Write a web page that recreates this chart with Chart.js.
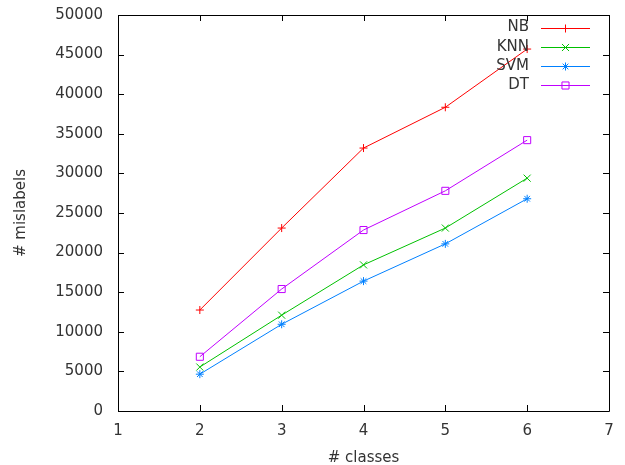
<!DOCTYPE html>
<html>
<head>
<meta charset="utf-8">
<script src="https://cdn.jsdelivr.net/npm/chart.js@4"></script>
<style>
  html, body { margin: 0; padding: 0; background: #fff; }
  #wrap { width: 625px; height: 465px; }
</style>
</head>
<body>
<div id="wrap"><canvas id="c" width="625" height="465"></canvas></div>
<script>
'use strict';

/* data */
var classes = [2, 3, 4, 5, 6];
var nbVals  = [12750, 23100, 33200, 38350, 45700];
var knnVals = [5550, 12100, 18450, 23100, 29400];
var svmVals = [4650, 10950, 16400, 21100, 26800];
var dtVals  = [6850, 15400, 22850, 27800, 34200];
var seriesNames = ['NB', 'KNN', 'SVM', 'DT'];
var xTicks = [1, 2, 3, 4, 5, 6, 7];
var yTicks = [0, 5000, 10000, 15000, 20000, 25000, 30000, 35000, 40000, 45000, 50000];

var FONT = 'DejaVu Sans';

function pts(vals){
  return vals.map(function(v, i){ return { x: classes[i], y: v }; });
}

function ds(label, vals, color, style, r, fill){
  return {
    label: label,
    data: pts(vals),
    borderColor: color,
    backgroundColor: color,
    borderWidth: 1,
    pointStyle: style,
    pointRadius: r,
    pointBorderWidth: 1,
    pointBorderColor: color,
    pointBackgroundColor: fill ? color : 'rgba(0,0,0,0)',
    tension: 0
  };
}

/* ── frame with inward ticks, gnuplot style ── */
var framePlugin = {
  id: 'frame',
  afterDatasetsDraw: function(chart){
    var ctx = chart.ctx, a = chart.chartArea;
    var xs = chart.scales.x, ys = chart.scales.y;
    ctx.save();
    ctx.strokeStyle = '#000';
    ctx.lineWidth = 1;
    ctx.beginPath();
    ctx.rect(Math.round(a.left) + 0.5, Math.round(a.top) + 0.5,
             Math.round(a.right - a.left), Math.round(a.bottom - a.top));
    var t = 6;
    xTicks.forEach(function(v){
      var px = Math.round(xs.getPixelForValue(v)) + 0.5;
      ctx.moveTo(px, a.bottom); ctx.lineTo(px, a.bottom - t);
      ctx.moveTo(px, a.top);    ctx.lineTo(px, a.top + t);
    });
    yTicks.forEach(function(v){
      var py = Math.round(ys.getPixelForValue(v)) + 0.5;
      ctx.moveTo(a.left, py);  ctx.lineTo(a.left + t, py);
      ctx.moveTo(a.right, py); ctx.lineTo(a.right - t, py);
    });
    ctx.stroke();
    ctx.restore();
  }
};

/* ── legend top-right, text right aligned + sample line ── */
var legendPlugin = {
  id: 'gpLegend',
  afterDatasetsDraw: function(chart){
    var ctx = chart.ctx;
    var textRight = 529, x0 = 541, x1 = 590, y0 = 27.5, dy = 19.3;
    ctx.save();
    ctx.font = '15px "' + FONT + '"';
    ctx.textAlign = 'right';
    ctx.textBaseline = 'middle';
    chart.data.datasets.forEach(function(d, i){
      var y = y0 + i * dy;
      var ly = Math.round(y) + 0.5;
      ctx.fillStyle = '#333';
      ctx.fillText(d.label, textRight, y);
      ctx.strokeStyle = d.borderColor;
      ctx.lineWidth = 1;
      ctx.beginPath();
      ctx.moveTo(x0, ly);
      ctx.lineTo(x1, ly);
      ctx.stroke();
      ctx.fillStyle = d.pointBackgroundColor;
      ctx.strokeStyle = d.borderColor;
      Chart.helpers.drawPoint(ctx, {
        pointStyle: d.pointStyle, radius: d.pointRadius, rotation: 0, borderWidth: 1
      }, (x0 + x1) / 2, ly);
    });
    ctx.restore();
  }
};

var chart = new Chart(document.getElementById('c'), {
  type: 'line',
  data: {
    datasets: [
      ds(seriesNames[0], nbVals,  '#ff0000', 'cross',    4, true),
      ds(seriesNames[1], knnVals, '#00c000', 'crossRot', 5, true),
      ds(seriesNames[2], svmVals, '#0080ff', 'star',     4, true),
      ds(seriesNames[3], dtVals,  '#c000ff', 'rect',     5, false)
    ]
  },
  options: {
    responsive: false,
    animation: false,
    events: [],
    layout: { padding: { top: 15, right: 16, left: 0, bottom: 0 } },
    plugins: { legend: { display: false }, tooltip: { enabled: false } },
    scales: {
      x: {
        type: 'linear', min: 1, max: 7,
        afterBuildTicks: function(s){ s.ticks = xTicks.map(function(v){ return { value: v }; }); },
        grid: { display: false, drawTicks: false },
        border: { display: false },
        ticks: { color: '#333', padding: 11, maxRotation: 0, font: { family: FONT, size: 15 },
                 callback: function(v){ return String(v); } },
        title: { display: true, text: '# classes', color: '#333', padding: { top: 6, bottom: -2 }, font: { family: FONT, size: 15 } },
        afterFit: function(s){ s.height = 54; s.paddingLeft = 0; s.paddingRight = 0; }
      },
      y: {
        type: 'linear', min: 0, max: 50000,
        afterBuildTicks: function(s){ s.ticks = yTicks.map(function(v){ return { value: v }; }); },
        grid: { display: false, drawTicks: false },
        border: { display: false },
        ticks: { color: '#333', padding: 15, font: { family: FONT, size: 15 },
                 callback: function(v){ return String(v); } },
        title: { display: true, text: '# mislabels', color: '#333', padding: { top: 12, bottom: 0 }, font: { family: FONT, size: 15 } },
        afterFit: function(s){ s.width = 118; s.paddingTop = 0; s.paddingBottom = 0; }
      }
    }
  },
  plugins: [framePlugin, legendPlugin]
});
</script>
</body>
</html>
